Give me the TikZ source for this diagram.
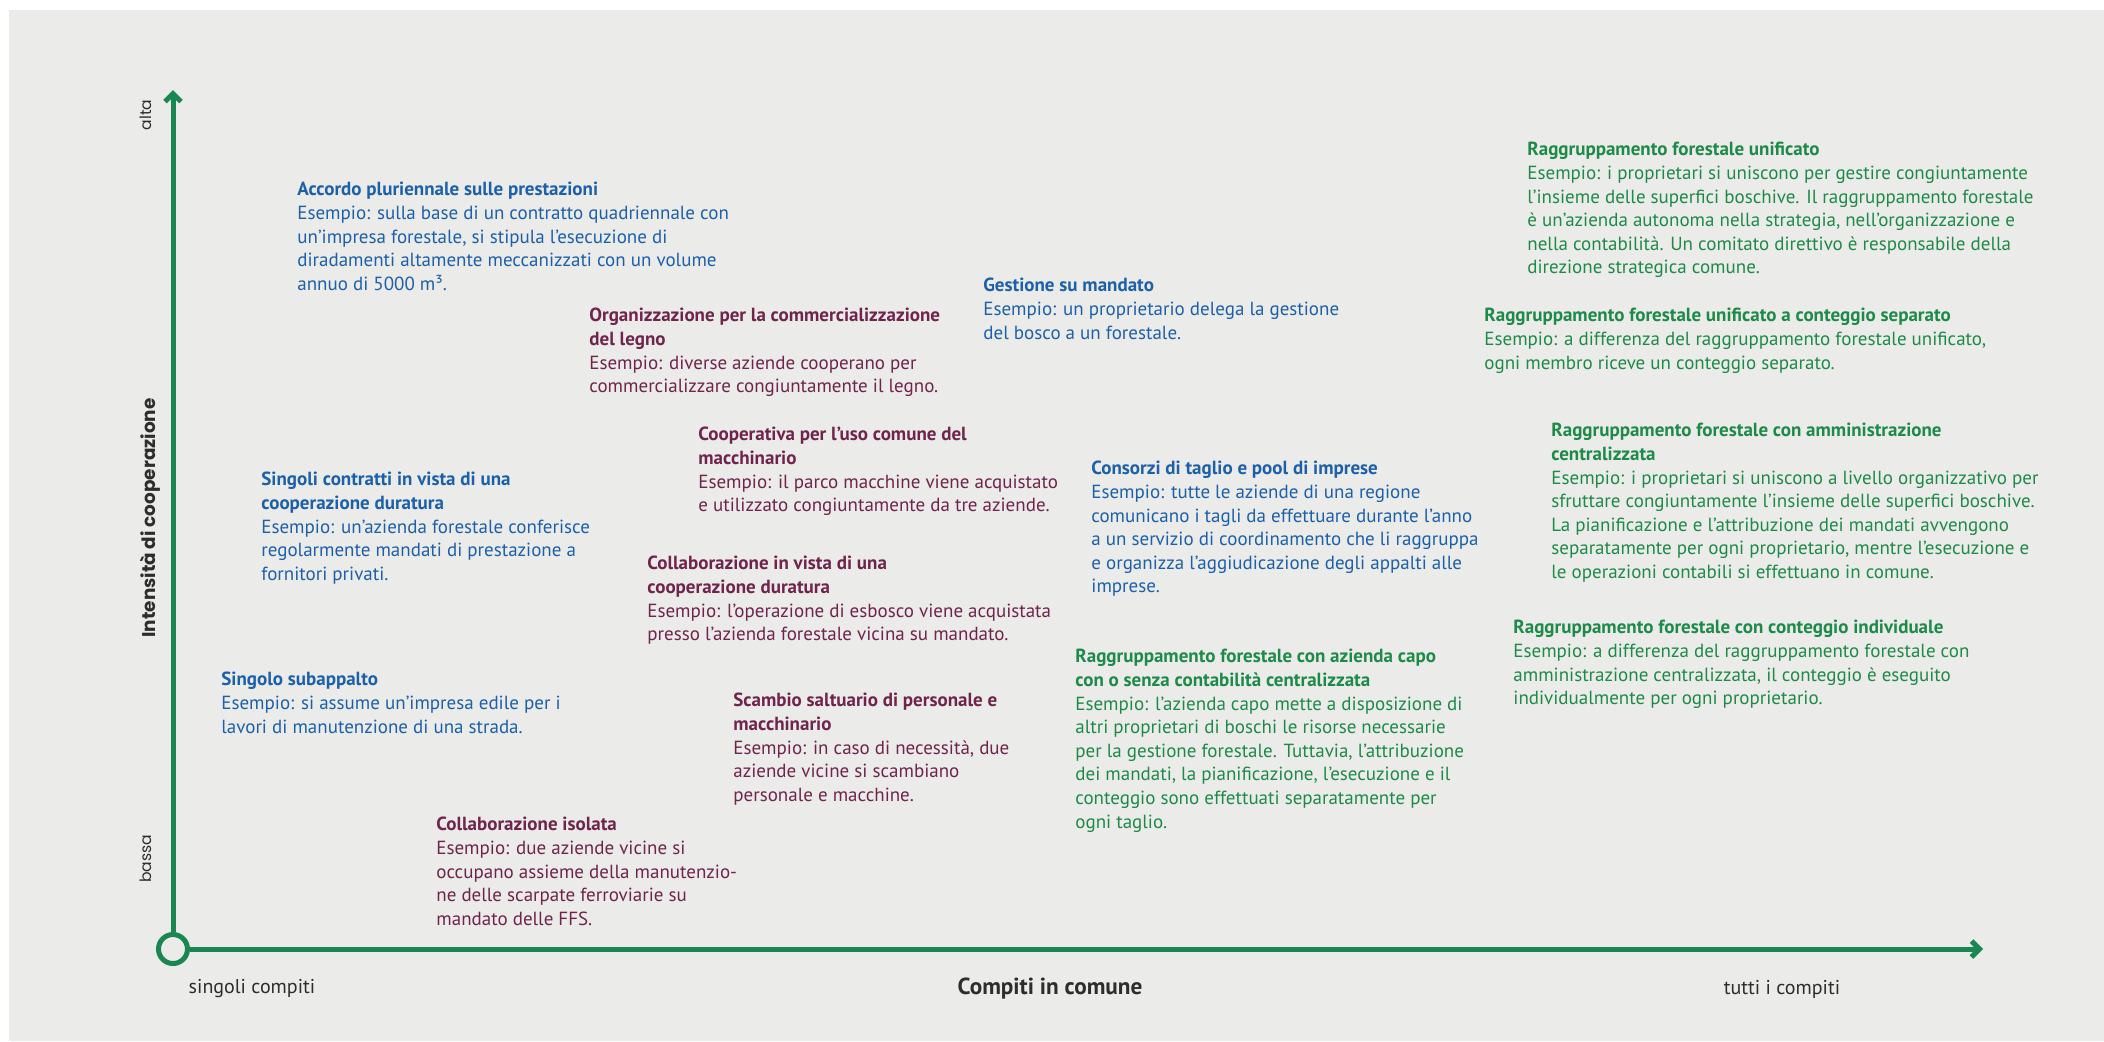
\documentclass[tikz,border=0pt]{standalone}
\usepackage{fontspec}
\setmainfont{PT Sans}
\newfontfamily\axisfont{Poppins}
\usepackage{xcolor}
\usetikzlibrary{arrows.meta}

\definecolor{bgpanel}{RGB}{235,235,233}
\definecolor{axgreen}{RGB}{26,135,82}
\definecolor{txblue}{RGB}{28,96,170}
\definecolor{txmaroon}{RGB}{112,36,76}
\definecolor{txgreen}{RGB}{30,138,72}
\definecolor{txgray}{RGB}{45,45,45}

\begin{document}
\begin{tikzpicture}[x=0.5pt, y=-0.5pt,
  blk/.style={anchor=north west, align=left, inner sep=0pt,
              font=\fontsize{9.5}{11.8}\selectfont},
  bl/.style={blk, text=txblue},
  mr/.style={blk, text=txmaroon},
  gr/.style={blk, text=txgreen},
  axis/.style={line width=2.5pt, draw=axgreen,
               -{Straight Barb[length=4pt, width=8pt]}},
  orig/.style={circle, draw=axgreen, line width=2.5pt, fill=bgpanel,
               minimum size=14.5pt, inner sep=0pt},
  lvl/.style={rotate=90, anchor=base, text=txgray, font=\axisfont\fontsize{7.8}{9}\selectfont},
  ticklbl/.style={text=txgray, font=\fontsize{10}{12}\selectfont}
]
  \useasboundingbox (0,0) rectangle (2104,1041);
  \fill[bgpanel] (9,10) rectangle (2104,1041);

  % axes
  \node[orig] (o) at (173,949) {};
  \coordinate (ytop) at (173,90);
  \coordinate (xend) at (1983,949);
  \draw[axis] (o) -- (ytop);
  \draw[axis] (o) -- (xend);

  \node[lvl] (alta) at (151,115) {alta};
  \node[lvl] (bassa) at (151,859) {bassa};
  \node[lvl, font=\axisfont\bfseries\fontsize{9.2}{11}\selectfont] (yttl) at (155,518) {Intensità di cooperazione};
  \node[ticklbl] (xlo) at (252,989) {singoli compiti};
  \node[ticklbl, font=\bfseries\fontsize{11.6}{14}\selectfont] (xttl) at (1050,989) {Compiti in comune};
  \node[ticklbl] (xhi) at (1782,989) {tutti i compiti};

  % forme di cooperazione
  \node[bl] (accordo) at (297,182) {\textbf{Accordo pluriennale sulle prestazioni}\\
    Esempio: sulla base di un contratto quadriennale con\\
    un’impresa forestale, si stipula l’esecuzione di\\
    diradamenti altamente meccanizzati con un volume\\
    annuo di 5000 m³.};
  \node[bl] (gestione) at (983,278) {\textbf{Gestione su mandato}\\
    Esempio: un proprietario delega la gestione\\
    del bosco a un forestale.};
  \node[mr] (commerc) at (589,308) {\textbf{Organizzazione per la commercializzazione}\\
    \textbf{del legno}\\
    Esempio: diverse aziende cooperano per\\
    commercializzare congiuntamente il legno.};
  \node[mr] (coopmacch) at (698,427) {\textbf{Cooperativa per l’uso comune del}\\
    \textbf{macchinario}\\
    Esempio: il parco macchine viene acquistato\\
    e utilizzato congiuntamente da tre aziende.};
  \node[bl] (contratti) at (261,472) {\textbf{Singoli contratti in vista di una}\\
    \textbf{cooperazione duratura}\\
    Esempio: un’azienda forestale conferisce\\
    regolarmente mandati di prestazione a\\
    fornitori privati.};
  \node[bl] (consorzi) at (1091,461) {\textbf{Consorzi di taglio e pool di imprese}\\
    Esempio: tutte le aziende di una regione\\
    comunicano i tagli da effettuare durante l’anno\\
    a un servizio di coordinamento che li raggruppa\\
    e organizza l’aggiudicazione degli appalti alle\\
    imprese.};
  \node[mr] (collvista) at (647,556) {\textbf{Collaborazione in vista di una}\\
    \textbf{cooperazione duratura}\\
    Esempio: l’operazione di esbosco viene acquistata\\
    presso l’azienda forestale vicina su mandato.};
  \node[bl] (subapp) at (221,672) {\textbf{Singolo subappalto}\\
    Esempio: si assume un’impresa edile per i\\
    lavori di manutenzione di una strada.};
  \node[mr] (scambio) at (733,693) {\textbf{Scambio saltuario di personale e}\\
    \textbf{macchinario}\\
    Esempio: in caso di necessità, due\\
    aziende vicine si scambiano\\
    personale e macchine.};
  \node[mr] (isolata) at (436,817) {\textbf{Collaborazione isolata}\\
    Esempio: due aziende vicine si\\
    occupano assieme della manutenzio-\\
    ne delle scarpate ferroviarie su\\
    mandato delle FFS.};

  % raggruppamenti forestali
  \node[gr] (capo) at (1075,649) {\textbf{Raggruppamento forestale con azienda capo}\\
    \textbf{con o senza contabilità centralizzata}\\
    Esempio: l’azienda capo mette a disposizione di\\
    altri proprietari di boschi le risorse necessarie\\
    per la gestione forestale. Tuttavia, l’attribuzione\\
    dei mandati, la pianificazione, l’esecuzione e il\\
    conteggio sono effettuati separatamente per\\
    ogni taglio.};
  \node[gr] (unif) at (1527,142) {\textbf{Raggruppamento forestale unificato}\\
    Esempio: i proprietari si uniscono per gestire congiuntamente\\
    l’insieme delle superfici boschive. Il raggruppamento forestale\\
    è un’azienda autonoma nella strategia, nell’organizzazione e\\
    nella contabilità. Un comitato direttivo è responsabile della\\
    direzione strategica comune.};
  \node[gr] (unifsep) at (1484,308) {\textbf{Raggruppamento forestale unificato a conteggio separato}\\
    Esempio: a differenza del raggruppamento forestale unificato,\\
    ogni membro riceve un conteggio separato.};
  \node[gr] (ammin) at (1551,423) {\textbf{Raggruppamento forestale con amministrazione}\\
    \textbf{centralizzata}\\
    Esempio: i proprietari si uniscono a livello organizzativo per\\
    sfruttare congiuntamente l’insieme delle superfici boschive.\\
    La pianificazione e l’attribuzione dei mandati avvengono\\
    separatamente per ogni proprietario, mentre l’esecuzione e\\
    le operazioni contabili si effettuano in comune.};
  \node[gr] (indiv) at (1513,620) {\textbf{Raggruppamento forestale con conteggio individuale}\\
    Esempio: a differenza del raggruppamento forestale con\\
    amministrazione centralizzata, il conteggio è eseguito\\
    individualmente per ogni proprietario.};
\end{tikzpicture}
\end{document}
